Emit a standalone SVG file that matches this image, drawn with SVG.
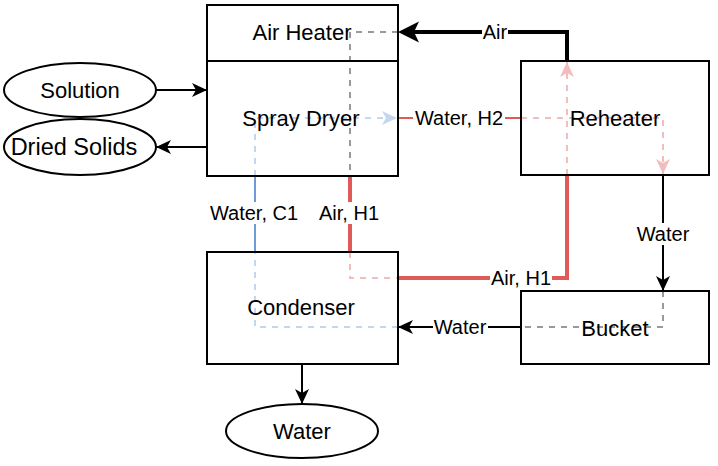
<svg xmlns="http://www.w3.org/2000/svg" width="718" height="466" viewBox="0 0 718 466">
<style>
.node{fill:#fff;fill-opacity:0.6;stroke:#000;stroke-width:2}
.ell{fill:#fff;stroke:#000;stroke-width:2}
.nt{font-family:"Liberation Sans",Arial,sans-serif;font-size:22px;fill:#000;text-anchor:middle}
.lt{font-family:"Liberation Sans",Arial,sans-serif;font-size:20px;fill:#000;text-anchor:middle}
.lbg{fill:#fff}
.e{fill:none;stroke-linejoin:miter}
.k{stroke:#000}
.r{stroke:#e05a5a}
.b{stroke:#6c9bd6}
.w2{stroke-width:2}
.w4{stroke-width:4}
.d{stroke-dasharray:6 6}
</style>
<defs>
<marker id="ak" markerUnits="userSpaceOnUse" markerWidth="16" markerHeight="15" refX="15" refY="7" orient="auto" overflow="visible"><path d="M0,0 L15,7 L0,14 L4,7 Z" fill="#000"/></marker>
<marker id="akT" markerUnits="userSpaceOnUse" markerWidth="22" markerHeight="22" refX="5" refY="10.5" orient="auto" overflow="visible"><path d="M0,0 L21,10.5 L0,21 L5,10.5 Z" fill="#000"/></marker>
<marker id="ar" markerUnits="userSpaceOnUse" markerWidth="16" markerHeight="15" refX="15" refY="7" orient="auto" overflow="visible"><path d="M0,0 L15,7 L0,14 L4,7 Z" fill="#e05a5a"/></marker>
<marker id="ab" markerUnits="userSpaceOnUse" markerWidth="16" markerHeight="15" refX="15" refY="7" orient="auto" overflow="visible"><path d="M0,0 L15,7 L0,14 L4,7 Z" fill="#6c9bd6"/></marker>
</defs>
<rect width="718" height="466" fill="#fff"/>
<g id="connectors">
  <path class="e k w2" d="M156,90 L207,90" marker-end="url(#ak)"/>
  <path class="e k w2" d="M207,147 L156,147" marker-end="url(#ak)"/>
  <path class="e k w4" d="M567,61 L567,32 L414,32" marker-end="url(#akT)"/>
  <path class="e k w2 d" d="M398,32 L350,32 L350,176"/>
  <path class="e r w4" d="M350,176 L350,252"/>
  <path class="e r w2 d" d="M350,252 L350,278 L398,278"/>
  <path class="e r w4" d="M398,278 L567,278 L567,175"/>
  <path class="e r w2 d" d="M567,175 L567,62" marker-end="url(#ar)"/>
  <path class="e b w2 d" d="M398,327 L255,327 L255,252"/>
  <path class="e b w2" d="M255,252 L255,176"/>
  <path class="e b w2 d" d="M255,176 L255,118 L397,118" marker-end="url(#ab)"/>
  <path class="e r w2" d="M398,118 L521,118"/>
  <path class="e r w2 d" d="M521,118 L663,118 L663,174" marker-end="url(#ar)"/>
  <path class="e k w2" d="M663,175 L663,291" marker-end="url(#ak)"/>
  <path class="e k w2 d" d="M663,291 L663,327 L521,327"/>
  <path class="e k w2" d="M521,327 L398,327" marker-end="url(#ak)"/>
  <path class="e k w2" d="M302,364 L302,404" marker-end="url(#ak)"/>
</g>
<g id="air-heater"><rect class="node" x="207" y="5" width="191" height="56"/><text class="nt" x="302" y="40">Air Heater</text></g>
<g id="spray-dryer"><rect class="node" x="207" y="61" width="191" height="115"/><text class="nt" x="301" y="126">Spray Dryer</text></g>
<g id="reheater"><rect class="node" x="521" y="61" width="188" height="114"/><text class="nt" x="615" y="126">Reheater</text></g>
<g id="condenser"><rect class="node" x="207" y="252" width="191" height="112"/><text class="nt" x="301" y="315">Condenser</text></g>
<g id="bucket"><rect class="node" x="521" y="291" width="188" height="73"/><text class="nt" x="615" y="336">Bucket</text></g>
<g id="solution"><ellipse class="ell" cx="80" cy="90" rx="76" ry="27"/><text class="nt" x="80" y="98">Solution</text></g>
<g id="dried-solids"><ellipse class="ell" cx="80" cy="147" rx="76" ry="28"/><text class="nt" x="74" y="155" style="font-size:23.5px">Dried Solids</text></g>
<g id="water-out"><ellipse class="ell" cx="302" cy="431" rx="76" ry="27"/><text class="nt" x="302" y="439">Water</text></g>
<g id="edge-labels">
  <rect class="lbg" x="482" y="21" width="26" height="22"/><text class="lt" x="495" y="39">Air</text>
  <rect class="lbg" x="413" y="107" width="92" height="22"/><text class="lt" x="459" y="125">Water, H2</text>
  <rect class="lbg" x="208" y="202" width="92" height="22"/><text class="lt" x="254" y="220">Water, C1</text>
  <rect class="lbg" x="318" y="202" width="62" height="22"/><text class="lt" x="349" y="220">Air, H1</text>
  <rect class="lbg" x="490" y="267" width="62" height="22"/><text class="lt" x="521" y="285">Air, H1</text>
  <rect class="lbg" x="636" y="223" width="55" height="22"/><text class="lt" x="663" y="241">Water</text>
  <rect class="lbg" x="433" y="316" width="55" height="22"/><text class="lt" x="460" y="334">Water</text>
</g>
</svg>
